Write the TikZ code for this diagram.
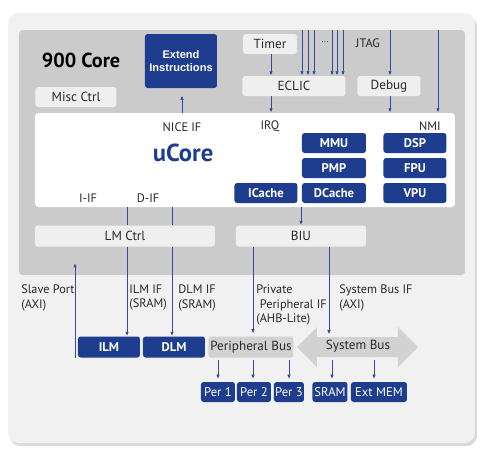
\documentclass[tikz,border=0pt]{standalone}
\usepackage{fontspec}
\setmainfont{PT Sans}
\newfontfamily\arialfont{Liberation Sans}
\usetikzlibrary{arrows.meta}
\definecolor{coreblue}{RGB}{31,61,143}
\definecolor{lineblue}{RGB}{52,76,150}
\definecolor{panelgray}{RGB}{241,241,241}
\definecolor{coregray}{RGB}{203,203,203}
\definecolor{busgray}{RGB}{210,210,210}
\definecolor{boxgray}{RGB}{239,239,239}
\definecolor{txtgray}{RGB}{40,40,40}
\def\px{0.2mm}
\tikzset{
  lightbox/.style={fill=boxgray, rounded corners=1.5pt, inner sep=0pt, minimum height=20*\px, text=txtgray, font=\fontsize{7.5}{8}\selectfont},
  bluebox/.style={fill=coreblue, rounded corners=1.5pt, inner sep=0pt, minimum height=20*\px, text=white, font=\bfseries\fontsize{7.2}{8}\selectfont},
  lbl/.style={inner sep=0pt, text=txtgray, align=left, font=\fontsize{7}{8}\selectfont},
  arr/.style={draw=lineblue, line width=0.5pt, -{Latex[length=2.5pt,width=2pt]}},
  wire/.style={draw=lineblue, line width=0.5pt},
}

\begin{document}
\begin{tikzpicture}[x=\px, y=-\px]
  % Boundary
  \path[use as bounding box] (0,0) rectangle (485,455);
  % Panels
  \fill[gray!30, rounded corners=6pt] (10,16) rectangle (477,446);
  \node[fill=panelgray, rounded corners=6pt, minimum width=467*\px, minimum height=430*\px] (panel) at (241.5,228) {};
  \node[fill=coregray, rounded corners=2pt, minimum width=446*\px, minimum height=245*\px] (core) at (242,152.5) {};
  \node[inner sep=0pt, font=\bfseries\fontsize{11.5}{12}\selectfont] (title) at (81,60) {900 Core};
  % Top blocks
  \node[bluebox, minimum width=72*\px, minimum height=54*\px, align=center, font=\arialfont\bfseries\fontsize{6.3}{7}\selectfont] (ext) at (181,61) {Extend\\Instructions};
  \node[lightbox, minimum width=81*\px] (misc) at (76,97) {Misc Ctrl};
  \node[lightbox, minimum width=54*\px] (timer) at (270,44) {Timer};
  \node[lightbox, minimum width=103*\px] (eclic) at (294,86) {ECLIC};
  \node[lightbox, minimum width=63*\px] (debug) at (389,86) {Debug};
  \node[lbl] (jtag) at (368,43) {JTAG};
  \node[lbl, font=\fontsize{5}{6}\selectfont] (dots) at (325,42) {...};
  % uCore
  \node[fill=white, rounded corners=2pt, minimum width=420*\px, minimum height=94*\px] (ucore) at (245,160) {};
  \node[inner sep=0pt, text=coreblue, font=\bfseries\fontsize{14}{15}\selectfont] (uname) at (183,153) {uCore};
  \node[lbl] (nice) at (182,127) {NICE IF};
  \node[lbl] (irq) at (270,126) {IRQ};
  \node[lbl] (nmi) at (430,126) {NMI};
  \node[lbl] (iif) at (88,198) {I-IF};
  \node[lbl] (dif) at (148,198) {D-IF};
  \node[bluebox, minimum width=64*\px] (mmu) at (334,143) {MMU};
  \node[bluebox, minimum width=64*\px] (pmp) at (334,168) {PMP};
  \node[bluebox, minimum width=64*\px] (dcache) at (334,193) {DCache};
  \node[bluebox, minimum width=63*\px] (icache) at (266,193) {ICache};
  \node[bluebox, minimum width=63*\px] (dsp) at (415,143) {DSP};
  \node[bluebox, minimum width=63*\px] (fpu) at (415,168) {FPU};
  \node[bluebox, minimum width=63*\px] (vpu) at (415,193) {VPU};
  % Interfaces
  \node[lightbox, minimum width=180*\px, minimum height=21*\px] (lm) at (125,236) {LM Ctrl};
  \node[lightbox, minimum width=130*\px, minimum height=21*\px] (biu) at (301,236) {BIU};
  % Bottom blocks
  \node[bluebox, minimum width=62*\px, minimum height=21*\px] (ilm) at (109,347) {ILM};
  \node[bluebox, minimum width=62*\px, minimum height=21*\px] (dlm) at (174,347) {DLM};
  \node[lightbox, fill=busgray, minimum width=85*\px, minimum height=21*\px] (pbus) at (251,347) {Peripheral Bus};
  \fill[busgray] (297,347) -- (317,327) -- (317,337) -- (398,337) -- (398,327) -- (418,347)
    -- (398,367) -- (398,357) -- (317,357) -- (317,367) -- cycle;
  \node[inner sep=0pt, text=txtgray, font=\fontsize{7.5}{8}\selectfont] (sbus) at (358,346) {System Bus};
  \coordinate (sbtop) at (358,337);
  \coordinate (sbbot) at (358,357);
  \node[bluebox, font=\fontsize{7.2}{8}\selectfont, minimum width=34*\px] (per1) at (218,392) {Per 1};
  \node[bluebox, font=\fontsize{7.2}{8}\selectfont, minimum width=34*\px] (per2) at (254,392) {Per 2};
  \node[bluebox, font=\fontsize{7.2}{8}\selectfont, minimum width=30*\px] (per3) at (289,392) {Per 3};
  \node[bluebox, font=\fontsize{7.2}{8}\selectfont, minimum width=35*\px] (sram) at (330,392) {SRAM};
  \node[bluebox, font=\fontsize{7.2}{8}\selectfont, minimum width=56*\px] (extmem) at (379,392) {Ext MEM};
  % Bus labels
  \node[lbl, anchor=west] (slave) at (21,298) {Slave Port\\(AXI)};
  \node[lbl, anchor=west] (ilmif) at (129,298) {ILM IF\\(SRAM)};
  \node[lbl, anchor=west] (dlmif) at (178,298) {DLM IF\\(SRAM)};
  \node[lbl, anchor=west] (ppif) at (256,305) {Private\\\hspace{2pt}Peripheral IF\\(AHB-Lite)};
  \node[lbl, anchor=west] (sbif) at (339,298) {System Bus IF\\(AXI)};
  % Arrows in the core
  \draw[arr, shorten >=4pt] (182,0 |- ucore.north) -- (182,0 |- ext.south);
  \draw[arr] (271,0 |- timer.south) -- (271,0 |- eclic.north);
  \foreach \i in {302,308,314,332,337,343}
    \draw[arr] (\i,0 |- core.north) -- (\i,0 |- eclic.north);
  \draw[arr] (390,0 |- core.north) -- (390,0 |- debug.north);
  \draw[arr] (271,0 |- eclic.south) -- (271,0 |- ucore.north);
  \draw[arr] (390,0 |- debug.south) -- (390,0 |- ucore.north);
  \draw[arr] (438,0 |- core.north) -- (438,0 |- ucore.north);
  \draw[arr] (biu.north |- ucore.south) -- (biu.north);
  \draw[wire] (127,0 |- ucore.south) -- (127,0 |- lm.north);
  \draw[wire] (172,0 |- ucore.south) -- (172,0 |- lm.north);
  % Arrows to the buses
  \draw[arr] (127,0 |- lm.south) -- (127,0 |- ilm.north);
  \draw[arr] (172,0 |- lm.south) -- (172,0 |- dlm.north);
  \draw[arr] (75,0 |- ilm.south) -- (75,263);
  \draw[arr, shorten >=1.5pt] (253,0 |- biu.south) -- (253,0 |- pbus.north);
  \draw[arr, shorten >=1.5pt] (329,0 |- biu.south) -- (329,0 |- sbtop);
  \foreach \i/\n in {218/per1,253/per2,289/per3}
    \draw[arr, shorten <=1.5pt, shorten >=1.5pt] (\i,0 |- pbus.south) -- (\i,0 |- \n.north);
  \draw[arr, shorten <=1.5pt, shorten >=1.5pt] (332,0 |- sbbot) -- (332,0 |- sram.north);
  \draw[arr, shorten <=1.5pt, shorten >=1.5pt] (374,0 |- sbbot) -- (374,0 |- extmem.north);
\end{tikzpicture}
\end{document}
